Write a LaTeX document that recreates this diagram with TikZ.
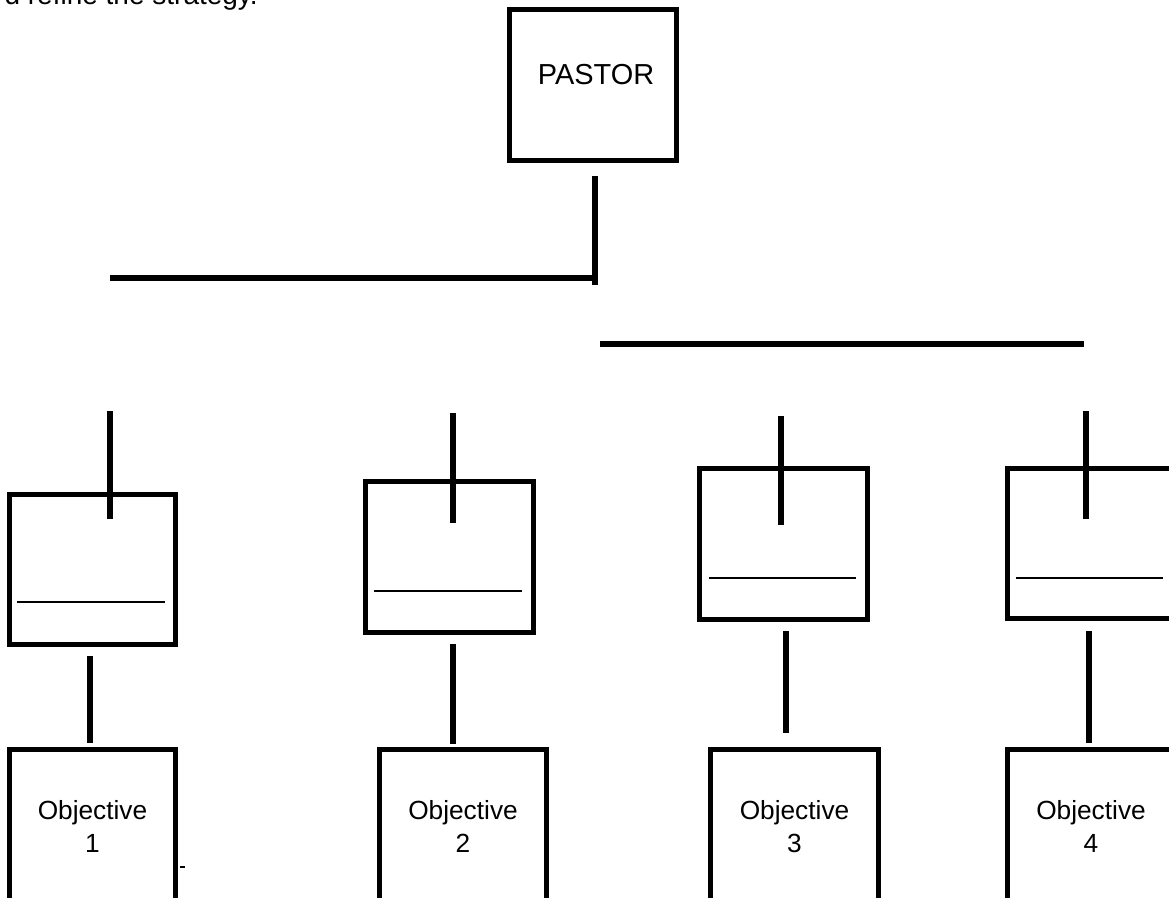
\documentclass[tikz,border=0pt]{standalone}
\usepackage{fontspec}
\setmainfont{Liberation Sans}
\begin{document}
\begin{tikzpicture}[x=0.75pt,y=-0.75pt,
  box/.style={draw=black,line width=4.2pt,fill=white,rectangle,inner sep=0pt},
  conn/.style={line width=4.2pt},
  thinline/.style={line width=1.5pt},
  objlbl/.style={font=\fontsize{19.7}{24.5}\selectfont,align=center}]
\useasboundingbox (0,0) rectangle (1169,898);
\clip (0,0) rectangle (1169,898);

% cut-off text at the top
\node[anchor=base east,inner sep=0pt,font=\fontsize{21}{25}\selectfont] (toptext) at (258,5) {d refine the strategy.};

% PASTOR
\node[box,minimum width=125.25pt,minimum height=113.25pt] (pastor) at (593,85) {};
\node[inner sep=0pt,font=\fontsize{21.7}{26}\selectfont] (pastorlbl) at (596,75) {PASTOR};

% middle boxes
\node[box,minimum width=124.5pt,minimum height=112.5pt] (m1) at (92.5,569.5) {};
\node[box,minimum width=126pt,minimum height=113.25pt] (m2) at (449.5,557) {};
\node[box,minimum width=126pt,minimum height=113.25pt] (m3) at (783.5,544) {};
\node[box,minimum width=126pt,minimum height=112.5pt] (m4) at (1091.5,543.5) {};

% objective boxes
\node[box,objlbl,minimum width=124.5pt,minimum height=115.5pt] (o1) at (92.5,826.5) {Objective\\1};
\node[box,objlbl,minimum width=125.25pt,minimum height=115.5pt] (o2) at (463,826.5) {Objective\\2};
\node[box,objlbl,minimum width=126pt,minimum height=115.5pt] (o3) at (794.5,826.5) {Objective\\3};
\node[box,objlbl,minimum width=125.25pt,minimum height=115.5pt] (o4) at (1091,826.5) {Objective\\4};

% coordinates for free-standing line segments
\coordinate (pa) at (595,176); \coordinate (pb) at (595,285);
\coordinate (h1a) at (110,278); \coordinate (h1b) at (595,278);
\coordinate (h2a) at (600,344); \coordinate (h2b) at (1084,344);

\coordinate (l1a) at (17,602);  \coordinate (l1b) at (165,602);
\coordinate (l2a) at (374,591); \coordinate (l2b) at (522,591);
\coordinate (l3a) at (709,578); \coordinate (l3b) at (856,578);
\coordinate (l4a) at (1016,578); \coordinate (l4b) at (1163,578);

\coordinate (t1a) at (110,411); \coordinate (t1b) at (110,519);
\coordinate (t2a) at (453,413); \coordinate (t2b) at (453,523);
\coordinate (t3a) at (781,416); \coordinate (t3b) at (781,525);
\coordinate (t4a) at (1086,411); \coordinate (t4b) at (1086,519);

\coordinate (b1a) at (90,656);  \coordinate (b1b) at (90,743);
\coordinate (b2a) at (453,644); \coordinate (b2b) at (453,744);
\coordinate (b3a) at (786,631); \coordinate (b3b) at (786,733);
\coordinate (b4a) at (1089,631); \coordinate (b4b) at (1089,743);

\coordinate (tk1) at (180,867); \coordinate (tk2) at (185,867);

% connectors
\draw[conn] (pa) -- (pb);
\draw[conn] (h1a) -- (h1b);
\draw[conn] (h2a) -- (h2b);
\foreach \i in {1,2,3,4}{
  \draw[thinline] (l\i a) -- (l\i b);
  \draw[conn] (t\i a) -- (t\i b);
  \draw[conn] (b\i a) -- (b\i b);
}
\draw[thinline] (tk1) -- (tk2);
\end{tikzpicture}
\end{document}
